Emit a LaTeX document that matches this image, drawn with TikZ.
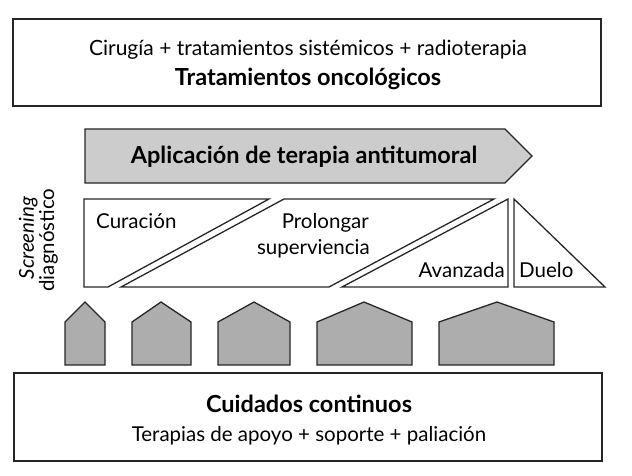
\documentclass[tikz,border=0pt]{standalone}
\usepackage{fontspec}
\setmainfont{Lato}
\begin{document}
\begin{tikzpicture}[x=1pt,y=-1pt,
  line/.style={draw=black!85,line width=1.3pt,line join=miter},
  house/.style={line,fill=black!32},
  txt/.style={inner sep=0pt,font=\fontsize{20.5}{24}\selectfont},
  btxt/.style={inner sep=0pt,font=\fontsize{23.5}{28}\selectfont\bfseries}]
\useasboundingbox (0,0) rectangle (632,476);
% top box
\draw[line] (13,19) rectangle (601,106);
\node[txt,anchor=base,font=\fontsize{21}{24}\selectfont] (t1) at (308,56) {Cirugía + tratamientos sistémicos + radioterapia};
\node[btxt,anchor=base] (t2) at (308,86) {Tratamientos oncológicos};
% arrow
\draw[line,fill=black!20] (85,129) -- (505,129) -- (532,156) -- (505,183) -- (85,183) -- cycle;
\node[btxt,anchor=base] (ar) at (304,164) {Aplicación de terapia antitumoral};
% screening
\node[txt,rotate=90,anchor=base,font=\fontsize{20.5}{24}\selectfont\itshape] (scr) at (34,238) {Screening};
\node[txt,rotate=90,anchor=base] (dia) at (54,240) {diagnóstico};
% phase shapes
\draw[line] (84,199) -- (269,199) -- (108,287) -- (84,287) -- cycle;
\draw[line] (284,199) -- (494,199) -- (329,287) -- (121,287) -- cycle;
\draw[line] (342,287) -- (508,287) -- (508,199) -- cycle;
\draw[line] (514,199) -- (514,287) -- (605,287) -- cycle;
\node[txt,anchor=base west] (cur) at (96,228) {Curación};
\node[txt,anchor=base east] (pro) at (369,228) {Prolongar};
\node[txt,anchor=base east] (sup) at (370,254) {superviencia};
\node[txt,anchor=base east] (ava) at (505,277) {Avanzada};
\node[txt,anchor=base west] (due) at (519,277) {Duelo};
% houses
\draw[house] (65,365) -- (65,322) -- (85,302) -- (105,322) -- (105,365) -- cycle;
\draw[house] (132,365) -- (132,322) -- (161,302) -- (191,322) -- (191,365) -- cycle;
\draw[house] (218,365) -- (218,322) -- (254,302) -- (290,322) -- (290,365) -- cycle;
\draw[house] (317,365) -- (317,322) -- (364,302) -- (412,322) -- (412,365) -- cycle;
\draw[house] (439,365) -- (439,322) -- (497,302) -- (554,322) -- (554,365) -- cycle;
% bottom box
\draw[line] (14,373) rectangle (602,461);
\node[btxt,anchor=base] (b1) at (309,412) {Cuidados continuos};
\node[txt,anchor=base] (b2) at (309,441) {Terapias de apoyo + soporte + paliación};
\end{tikzpicture}
\end{document}
